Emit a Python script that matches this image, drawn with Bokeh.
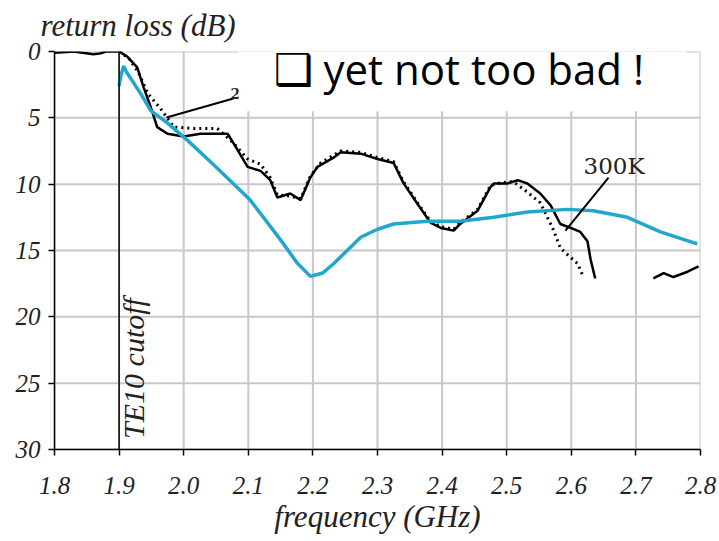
import math
from bokeh.plotting import figure
from bokeh.models import Range1d, FixedTicker, Span, Label, BoxAnnotation, NumeralTickFormatter
from bokeh.core.properties import value
from bokeh.embed import file_html
from bokeh.resources import INLINE

# ---- data ----
x_ticks = [1.8, 1.9, 2.0, 2.1, 2.2, 2.3, 2.4, 2.5, 2.6, 2.7, 2.8]
y_ticks = [0, 5, 10, 15, 20, 25, 30]

# measured (solid, "2")
meas_freq = [1.800, 1.830, 1.860, 1.870, 1.880, 1.900, 1.913, 1.928, 1.938, 1.949, 1.959,
             1.975, 2.000, 2.026, 2.068, 2.077, 2.099, 2.119, 2.134, 2.145, 2.165, 2.181,
             2.196, 2.207, 2.232, 2.243, 2.274, 2.300, 2.325, 2.340, 2.362, 2.382, 2.398,
             2.418, 2.428, 2.455, 2.475, 2.480, 2.501, 2.517, 2.532, 2.552, 2.568, 2.583,
             2.599, 2.614, 2.625, 2.630, 2.637,
             float("nan"),
             2.727, 2.743, 2.758, 2.780, 2.797]
meas_db = [0.1, 0.0, 0.2, 0.15, 0.0, 0.0, 0.4, 1.2, 2.7, 4.2, 5.7,
           6.2, 6.4, 6.2, 6.2, 6.9, 8.7, 9.0, 9.7, 11.0, 10.7, 11.2,
           9.5, 8.7, 8.0, 7.6, 7.7, 8.1, 8.4, 9.9, 11.5, 12.9, 13.3,
           13.5, 13.0, 12.0, 10.2, 9.95, 9.95, 9.7, 9.95, 10.7, 11.6, 13.0,
           13.3, 13.6, 14.3, 15.7, 17.1,
           float("nan"),
           17.1, 16.7, 17.0, 16.6, 16.2]

# measured (dotted, "300K")
cold_freq = [1.900, 1.915, 1.930, 1.945, 1.964, 1.985, 2.015, 2.052, 2.077, 2.099, 2.119,
             2.134, 2.145, 2.165, 2.181, 2.196, 2.212, 2.243, 2.274, 2.300, 2.325, 2.340,
             2.362, 2.382, 2.398, 2.418, 2.428, 2.455, 2.475, 2.490, 2.510, 2.532, 2.552,
             2.571, 2.583, 2.596, 2.610, 2.617]
cold_db = [0.0, 0.5, 1.6, 3.2, 4.3, 5.7, 5.8, 5.8, 6.9, 8.1, 8.5,
           9.5, 10.8, 10.9, 11.1, 9.4, 8.4, 7.5, 7.6, 8.0, 8.3, 9.8,
           11.4, 12.8, 13.2, 13.4, 12.9, 11.9, 10.1, 9.9, 9.8, 10.6, 11.4,
           13.3, 14.8, 15.4, 16.0, 16.8]

# simulation (blue)
sim_freq = [1.900, 1.903, 1.907, 1.912, 1.923, 1.935, 1.949, 1.975, 2.006, 2.050, 2.103,
            2.150, 2.175, 2.196, 2.215, 2.232, 2.255, 2.274, 2.300, 2.325, 2.377, 2.428,
            2.480, 2.532, 2.594, 2.634, 2.687, 2.738, 2.795]
sim_db = [2.6, 1.8, 1.1, 1.6, 2.4, 3.3, 4.45, 5.4, 6.7, 8.7, 11.2,
          14.2, 15.9, 16.95, 16.7, 16.0, 14.9, 14.0, 13.4, 13.0, 12.8, 12.8,
          12.5, 12.1, 11.9, 12.0, 12.5, 13.6, 14.5]

cutoff_freq = 1.9

# curve labels and their leader lines
leader2_x = [1.9734, 2.077]
leader2_y = [4.97, 3.54]
leader300_x = [2.6576, 2.591]
leader300_y = [9.5, 13.5]

SERIF = "Liberation Serif"
X0, X1 = x_ticks[0], x_ticks[-1]
Y0, Y1 = y_ticks[0], y_ticks[-1]

p = figure(width=719, height=541, output_backend="svg", toolbar_location=None,
           x_range=Range1d(X0, X1), y_range=Range1d(Y1, Y0),
           min_border_left=54, min_border_right=19, min_border_top=51, min_border_bottom=92)
p.background_fill_color = "white"
p.border_fill_color = "white"
p.outline_line_color = None
p.grid.visible = False

# title used as the y-axis caption on top
p.title.text = "return loss (dB)"
p.title.align = "left"
p.title.vertical_align = "top"
p.title.offset = -14
p.title.text_font = SERIF
p.title.text_font_style = "italic"
p.title.text_font_size = "31px"
p.title.text_color = "#222222"
p.title.standoff = 13

for ax in (p.xaxis, p.yaxis):
    ax.axis_line_color = "black"
    ax.axis_line_width = 1.5
    ax.major_tick_line_color = "black"
    ax.major_tick_line_width = 1.5
    ax.major_tick_out = 6
    ax.major_tick_in = 0
    ax.minor_tick_line_color = None
    ax.major_label_text_font = SERIF
    ax.major_label_text_font_style = "italic"
    ax.major_label_text_font_size = "25px"
    ax.major_label_text_color = "#222222"

p.xaxis.ticker = FixedTicker(ticks=x_ticks)
p.yaxis.ticker = FixedTicker(ticks=y_ticks)
p.xaxis.formatter = NumeralTickFormatter(format="0.0")
p.yaxis.formatter = NumeralTickFormatter(format="0")
p.xaxis.major_label_standoff = 21
p.yaxis.major_label_standoff = 8
p.xaxis.axis_label = "frequency (GHz)"
p.xaxis.axis_label_text_font = SERIF
p.xaxis.axis_label_text_font_style = "italic"
p.xaxis.axis_label_text_font_size = "31px"
p.xaxis.axis_label_text_color = "#222222"
p.xaxis.axis_label_standoff = 2

# grid lines drawn from the tick lists
GRID = "#c8c8c8"
p.segment(x0=x_ticks, y0=[Y0] * len(x_ticks), x1=x_ticks, y1=[Y1] * len(x_ticks),
          line_color=GRID, line_width=2)
p.segment(x0=[X0] * len(y_ticks), y0=y_ticks, x1=[X1] * len(y_ticks), y1=y_ticks,
          line_color=GRID, line_width=2)

# curves
p.line(meas_freq, meas_db, line_color="black", line_width=2.5)
p.line(cold_freq, cold_db, line_color="black", line_width=3, line_dash="2 4")
p.line(sim_freq, sim_db, line_color="#22a7cc", line_width=3.5)

# leaders and curve tags
p.line(leader2_x, leader2_y, line_color="black", line_width=2)
p.line(leader300_x, leader300_y, line_color="black", line_width=2)
p.text(x=[2.0724], y=[3.15], text=["2"], text_font=value("DejaVu Serif"),
       text_font_size="14px", text_font_style="bold", text_baseline="alphabetic", text_color="#222222")
p.text(x=[2.619], y=[8.65], text=["300K"], text_font=value("DejaVu Serif"),
       text_font_size="23px", text_baseline="alphabetic", text_color="#222222")

# TE10 cutoff line and label
p.add_layout(Span(location=cutoff_freq, dimension="height", line_color="black", line_width=1.5))
p.add_layout(Label(x=cutoff_freq, y=29.2, text="TE10 cutoff", angle=math.pi / 2,
                   x_offset=-2, text_baseline="top", text_font=SERIF, text_font_style="italic",
                   text_font_size="30px", text_color="#222222"))

# slide annotation (white box hiding part of the grid)
p.add_layout(BoxAnnotation(left=2.085, right=2.778, top=-3, bottom=4.5,
                           fill_color="white", fill_alpha=1.0, line_color=None))
p.add_layout(Label(x=2.139, y=1.36, text="\u2751", text_font="DejaVu Sans",
                   text_font_size="44px", text_baseline="alphabetic", text_color="black"))
p.add_layout(Label(x=2.2164, y=1.28, text="yet not too bad !", text_font="Open Sans",
                   text_font_size="42px", text_baseline="alphabetic", text_color="black"))

open("out.html", "w").write(file_html(p, INLINE))
